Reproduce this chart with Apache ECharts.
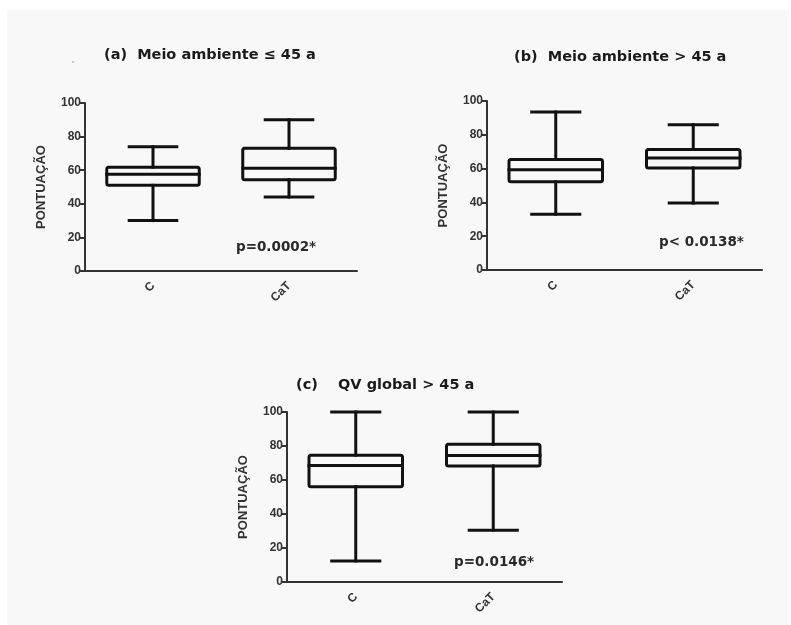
<!DOCTYPE html>
<html>
<head>
<meta charset="utf-8">
<style>
  html, body { margin: 0; padding: 0; background: #fff; }
  #chart { width: 791px; height: 625px; }
</style>
<script src="https://cdn.jsdelivr.net/npm/echarts@6/dist/echarts.min.js"></script>
</head>
<body>
<div id="chart"></div>
<script>
// categorias e valores (min, Q1, mediana, Q3, max)
const categories = ['C', 'CaT']
const yTicks = [0, 20, 40, 60, 80, 100]

const boxA = [
  [30, 51, 57.6, 61.8, 74],
  [44, 54.3, 61.2, 73, 90]
]
const boxB = [
  [33, 52.2, 59.3, 65.4, 93.5],
  [39.6, 60.4, 66.3, 71.3, 86]
]
const boxC = [
  [12.4, 56, 68.5, 74.6, 100],
  [30.5, 68.3, 74.4, 81.1, 100]
]

const panelTitles = ['(a)  Meio ambiente ≤ 45 a', '(b)  Meio ambiente > 45 a', '(c)    QV global > 45 a']
const pValues = ['p=0.0002*', 'p< 0.0138*', 'p=0.0146*']

const FONT = '"Liberation Sans", Arial, sans-serif'
const WIDE = '"DejaVu Sans", sans-serif'
const INK = '#111'

const chart = echarts.init(document.getElementById('chart'))

// grades dos tres paineis
const grids = [
  { left: 85, top: 103, width: 272, height: 168 },
  { left: 487, top: 101, width: 275, height: 169 },
  { left: 287, top: 412, width: 275, height: 170 }
]

function renderBox(params, api) {
  const x = api.value(0)
  const pMin = api.coord([x, api.value(1)])
  const pQ1 = api.coord([x, api.value(2)])
  const pMed = api.coord([x, api.value(3)])
  const pQ3 = api.coord([x, api.value(4)])
  const pMax = api.coord([x, api.value(5)])
  const band = api.size([1, 0])[0]
  const bw = band * 0.34
  const cw = band * 0.175
  const cx = pMed[0]
  const style = { stroke: INK, lineWidth: 3, fill: null, lineCap: 'square' }
  const line = (x1, y1, x2, y2) => ({ type: 'line', shape: { x1, y1, x2, y2 }, style })
  return {
    type: 'group',
    children: [
      line(cx, pQ3[1], cx, pMax[1]),
      line(cx - cw, pMax[1], cx + cw, pMax[1]),
      line(cx, pQ1[1], cx, pMin[1]),
      line(cx - cw, pMin[1], cx + cw, pMin[1]),
      { type: 'rect', shape: { x: cx - bw, y: pQ3[1], width: bw * 2, height: pQ1[1] - pQ3[1], r: 2 }, style },
      line(cx - bw, pMed[1], cx + bw, pMed[1])
    ]
  }
}

const axisLine = { lineStyle: { color: '#333', width: 2 } }
const axisTick = { length: 5, lineStyle: { color: '#333', width: 2 } }

const xAxes = grids.map((g, i) => ({
  type: 'category',
  gridIndex: i,
  data: categories,
  boundaryGap: true,
  axisLine,
  axisTick: { ...axisTick, alignWithLabel: true },
  axisLabel: { rotate: 45, fontFamily: FONT, fontWeight: 'bold', fontSize: 12, color: '#333', margin: 13 }
}))

const yAxes = grids.map((g, i) => ({
  type: 'value',
  gridIndex: i,
  min: yTicks[0],
  max: yTicks[yTicks.length - 1],
  interval: 20,
  name: 'PONTUAÇÃO',
  nameLocation: 'middle',
  nameGap: 37,
  nameTextStyle: { fontFamily: FONT, fontWeight: 'bold', fontSize: 13, color: '#333' },
  splitLine: { show: false },
  axisLine: { show: true, ...axisLine },
  axisTick: { show: true, ...axisTick },
  axisLabel: { fontFamily: FONT, fontWeight: 'bold', fontSize: 12, color: '#333', margin: 4 }
}))

const series = [boxA, boxB, boxC].map((box, i) => ({
  type: 'custom',
  xAxisIndex: i,
  yAxisIndex: i,
  renderItem: renderBox,
  encode: { x: 0, y: [1, 2, 3, 4, 5] },
  data: box.map((v, k) => [k, ...v]),
  silent: true
}))

const titlePos = [
  { left: 104, top: 48 },
  { left: 514, top: 50 },
  { left: 296, top: 378 }
]
const pPos = [
  { left: 236, top: 240 },
  { left: 659, top: 235 },
  { left: 454, top: 555 }
]

const titles = []
panelTitles.forEach((t, i) => {
  titles.push({ text: t, ...titlePos[i], padding: 0,
    textStyle: { fontFamily: WIDE, fontWeight: 'bold', fontSize: 14.5, color: '#1a1a1a' } })
})
pValues.forEach((t, i) => {
  titles.push({ text: t, ...pPos[i], padding: 0,
    textStyle: { fontFamily: WIDE, fontWeight: 'bold', fontSize: 13.5, color: '#2a2a2a' } })
})

chart.setOption({
  backgroundColor: '#fff',
  animation: false,
  graphic: [
    { type: 'rect', left: 7, top: 10, shape: { width: 782, height: 615 }, style: { fill: '#f8f8f8' }, z: -10 },
    { type: 'circle', left: 72, top: 61, shape: { r: 1 }, style: { fill: '#bbb' } }
  ],
  title: titles,
  grid: grids,
  xAxis: xAxes,
  yAxis: yAxes,
  series
})
</script>
</body>
</html>
